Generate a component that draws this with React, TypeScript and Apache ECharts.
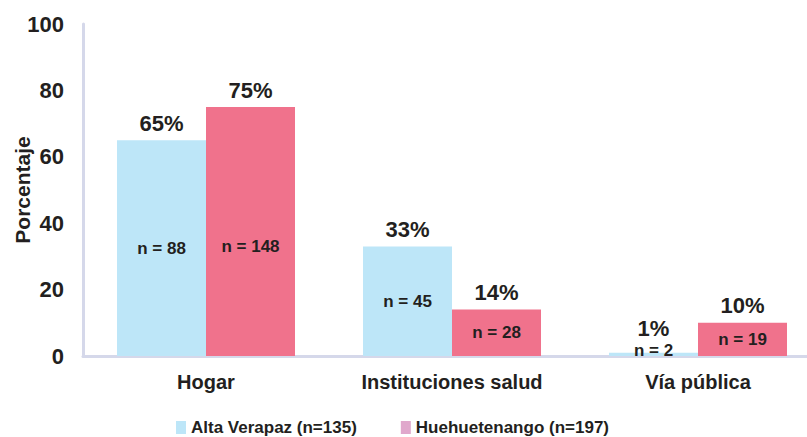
import React, { useEffect, useRef } from "react";
import * as echarts from "echarts";

const categories = ["Hogar", "Instituciones salud", "Vía pública"];
const seriesNames = ["Alta Verapaz (n=135)", "Huehuetenango (n=197)"];
const altaVerapaz = [65, 33, 1];
const huehuetenango = [75, 14, 10];
const altaVerapazN = [88, 45, 2];
const huehuetenangoN = [148, 28, 19];
const yTicks = [0, 20, 40, 60, 80, 100];

const FONT = "'Liberation Sans', Arial, sans-serif";
const TXT = "#231f20";
const BLUE = "#bde6f8";
const PINK = "#f0728c";
const PINK_LEGEND = "#e0a8cc";

export default function App() {
  const ref = useRef<HTMLDivElement>(null);
  useEffect(() => {
    if (!ref.current) return;
    const chart = echarts.init(ref.current, null, { renderer: "svg" });
    const pctLabel = {
      show: true,
      position: "top",
      distance: 6,
      fontFamily: FONT,
      fontWeight: "bold",
      fontSize: 22,
      color: TXT,
      formatter: (p: any) => p.value + "%",
    };
    const nLabel = (arr: number[]) => ({
      show: true,
      position: "inside",
      fontFamily: FONT,
      fontWeight: "bold",
      fontSize: 17,
      color: TXT,
      formatter: (p: any) => "n = " + arr[p.dataIndex],
    });
    chart.setOption({
      animation: false,
      textStyle: { fontFamily: FONT },
      grid: {
        left: 83,
        right: -14,
        top: 24,
        bottom: 81,
        containLabel: false,
        outerBoundsMode: "none",
      },
      legend: {
        top: 414,
        left: 171,
        itemWidth: 10,
        itemHeight: 13,
        itemGap: 44,
        icon: "rect",
        textStyle: { fontFamily: FONT, fontWeight: "bold", fontSize: 17, color: TXT },
        data: [
          { name: seriesNames[0], itemStyle: { color: BLUE } },
          { name: seriesNames[1], itemStyle: { color: PINK_LEGEND } },
        ],
      },
      xAxis: [
        {
          type: "category",
          data: categories,
          axisTick: { show: false },
          axisLine: { lineStyle: { color: "#d5d8ea", width: 3 } },
          axisLabel: {
            margin: 16,
            fontFamily: FONT,
            fontWeight: "bold",
            fontSize: 20,
            color: TXT,
          },
        },
        {
          type: "category",
          data: categories,
          show: false,
        },
      ],
      yAxis: {
        type: "value",
        min: yTicks[0],
        max: yTicks[yTicks.length - 1],
        interval: 20,
        name: "Porcentaje",
        nameLocation: "middle",
        nameGap: 50,
        nameMoveOverlap: false,
        nameTextStyle: { fontFamily: FONT, fontWeight: "bold", fontSize: 21, color: TXT },
        splitLine: { show: false },
        axisTick: { show: false },
        axisLine: { show: true, lineStyle: { color: "#d5d8ea", width: 3 } },
        axisLabel: {
          margin: 19,
          fontFamily: FONT,
          fontWeight: "bold",
          fontSize: 22,
          color: TXT,
        },
      },
      series: [
        {
          name: seriesNames[0],
          type: "bar",
          xAxisIndex: 0,
          barWidth: 89,
          barGap: "0%",
          itemStyle: { color: BLUE },
          label: pctLabel,
          data: altaVerapaz.map((v, i) =>
            i === 2 ? { value: v, label: { offset: [0, -7] } } : v
          ),
        },
        {
          name: seriesNames[1],
          type: "bar",
          xAxisIndex: 0,
          barWidth: 89,
          barGap: "0%",
          itemStyle: { color: PINK },
          label: pctLabel,
          data: huehuetenango,
        },
        {
          name: "nA",
          type: "bar",
          xAxisIndex: 1,
          barWidth: 89,
          barGap: "0%",
          itemStyle: { color: "rgba(0,0,0,0)" },
          label: nLabel(altaVerapazN),
          silent: true,
          data: altaVerapaz.map((v, i) =>
            i === 2 ? { value: v, label: { offset: [0, -4] } } : v
          ),
        },
        {
          name: "nH",
          type: "bar",
          xAxisIndex: 1,
          barWidth: 89,
          barGap: "0%",
          itemStyle: { color: "rgba(0,0,0,0)" },
          label: nLabel(huehuetenangoN),
          silent: true,
          data: huehuetenango.map((v, i) =>
            i === 0 ? { value: v, label: { offset: [0, 15] } } : v
          ),
        },
      ],
    });
    return () => chart.dispose();
  }, []);
  return (
    <div
      ref={ref}
      style={{ position: "absolute", left: 0, top: 0, width: 807, height: 437 }}
    />
  );
}
